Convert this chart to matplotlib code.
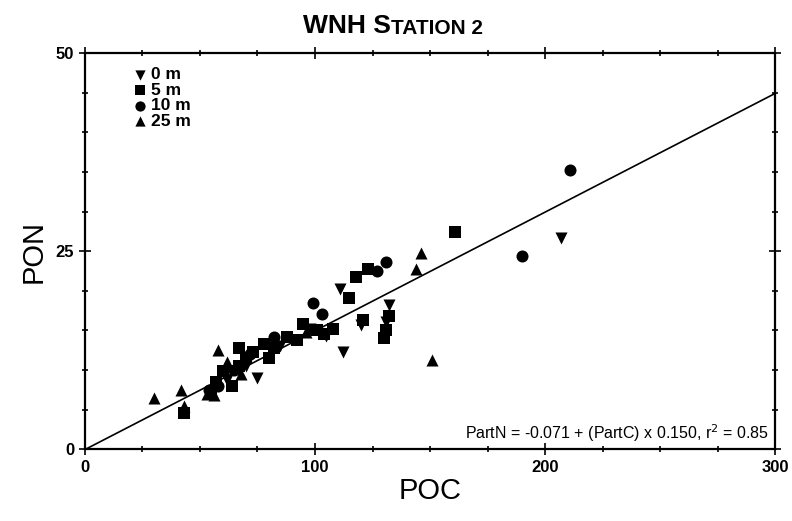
import matplotlib.pyplot as plt
import numpy as np
from matplotlib.ticker import MultipleLocator

plt.rcParams['font.family'] = ['Liberation Sans', 'DejaVu Sans']

# POC / PON pairs, by depth
poc_0m = [62, 75, 112, 111, 120, 131, 132, 207, 98, 85, 105, 70]
pon_0m = [8.7, 9.0, 12.3, 20.2, 15.7, 16.0, 18.2, 26.6, 15.2, 13.0, 14.3, 10.5]

poc_5m = [43, 55, 57, 60, 67, 67, 70, 73, 78, 80, 82, 92, 95, 101, 104, 108, 115,
          118, 121, 123, 130, 131, 132, 161, 64, 88]
pon_5m = [4.5, 7.0, 8.5, 9.8, 12.8, 10.5, 11.5, 12.2, 13.3, 11.5, 12.8, 13.8, 15.8,
          15.0, 14.5, 15.2, 19.1, 21.7, 16.3, 22.8, 14.0, 15.0, 16.8, 27.4, 8.0, 14.2]

poc_10m = [99, 127, 131, 190, 211, 58, 65, 82, 103, 72, 54]
pon_10m = [18.4, 22.5, 23.6, 24.4, 35.2, 8.0, 10.0, 14.2, 17.0, 12.0, 7.5]

poc_25m = [30, 42, 43, 58, 56, 62, 146, 144, 151, 53, 68, 96]
pon_25m = [6.5, 7.5, 5.5, 12.5, 6.8, 11.0, 24.7, 22.7, 11.2, 7.0, 9.5, 14.8]

fit_intercept = -0.071
fit_slope = 0.150
r_squared = 0.85

fig = plt.figure(figsize=(7.92, 5.21), dpi=100)
ax = fig.add_axes([0.107, 0.138, 0.872, 0.760])

ms = 75
ax.scatter(poc_0m, pon_0m, marker='v', s=ms, color='black', label='0 m', linewidths=0)
ax.scatter(poc_5m, pon_5m, marker='s', s=ms, color='black', label='5 m', linewidths=0)
ax.scatter(poc_10m, pon_10m, marker='o', s=ms, color='black', label='10 m', linewidths=0)
ax.scatter(poc_25m, pon_25m, marker='^', s=ms, color='black', label='25 m', linewidths=0)

xs = np.array([0, 300])
ax.plot(xs, fit_intercept + fit_slope * xs, color='black', lw=1.2)

ax.set_xlim(0, 300)
ax.set_ylim(0, 50)
ax.xaxis.set_major_locator(MultipleLocator(100))
ax.xaxis.set_minor_locator(MultipleLocator(25))
ax.yaxis.set_major_locator(MultipleLocator(25))
ax.yaxis.set_minor_locator(MultipleLocator(5))
ax.tick_params(which='both', direction='inout', top=True, right=True, width=1.2)
ax.tick_params(which='major', length=8, labelsize=12)
ax.tick_params(which='minor', length=5)
for lab in ax.get_xticklabels() + ax.get_yticklabels():
    lab.set_fontweight('bold')
for sp in ax.spines.values():
    sp.set_linewidth(1.6)

ax.set_xlabel('POC', fontsize=21, labelpad=2)
ax.set_ylabel('PON', fontsize=21, labelpad=6)

t1 = fig.text(0.383, 0.937, 'WNH S', fontsize=19, fontweight='bold', va='baseline')
ax.annotate('TATION 2', xy=(1, 0), xycoords=t1, fontsize=15, fontweight='bold',
            va='bottom', ha='left', annotation_clip=False)

ax.text(0.99, 0.012,
        'PartN = %.3f + (PartC) x %.3f, r$^2$ = %.2f' % (fit_intercept, fit_slope, r_squared),
        transform=ax.transAxes, ha='right', va='bottom', fontsize=11.5)

ax.legend(loc='upper left', frameon=False, handletextpad=0.05,
          labelspacing=0.02, borderaxespad=0.4, markerscale=0.85,
          handlelength=1.2, bbox_to_anchor=(0.045, 1.0),
          prop={'weight': 'bold', 'size': 12.5})

fig.savefig('out.png', dpi=100)
